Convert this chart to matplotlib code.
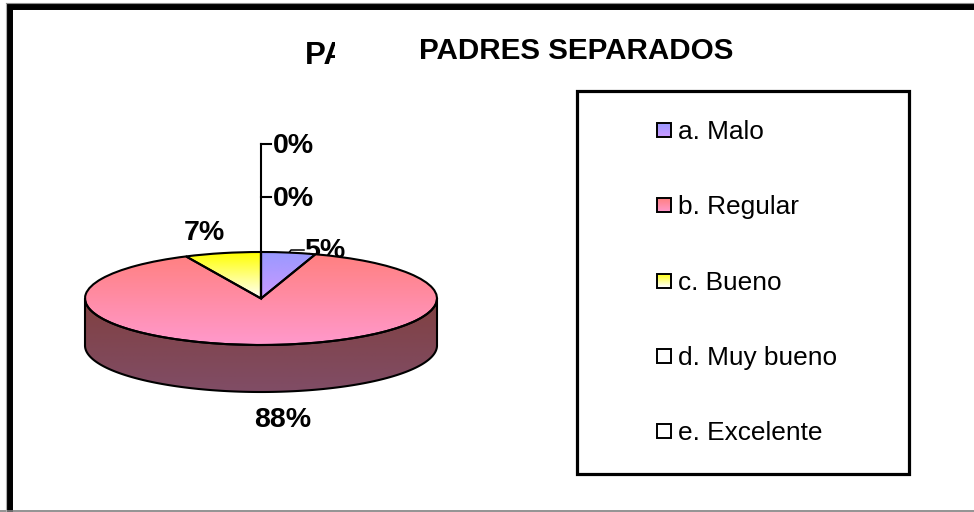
import numpy as np
import matplotlib
matplotlib.use('Agg')
import matplotlib.pyplot as plt
from matplotlib.patches import Rectangle, Polygon
from matplotlib.colors import LinearSegmentedColormap

plt.rcParams['font.family'] = ['Liberation Sans', 'DejaVu Sans']

title = 'PADRES SEPARADOS'
categories = ['a. Malo', 'b. Regular', 'c. Bueno', 'd. Muy bueno', 'e. Excelente']
values = [5, 88, 7, 0, 0]
pct_labels = ['5%', '88%', '7%', '0%', '0%']

# top / bottom colour of each gradient
grad_top = ['#9999ff', '#ff8080', '#ffff00', '#ffffff', '#ffffff']
grad_bot = ['#cc99ff', '#ff99cc', '#ffffff', '#ffffff', '#ffffff']
side_top = '#804040'
side_bot = '#804d66'

W, H = 974, 512
cx, cy, rx, ry, depth = 261, 298.5, 176, 46.5, 47


def gradient(ax, top, bot, extent, clip, zorder=1.5):
    cmap = LinearSegmentedColormap.from_list('g', [top, bot])
    im = ax.imshow(np.linspace(0, 1, 128).reshape(-1, 1), cmap=cmap, extent=extent,
                   aspect='auto', origin='upper', zorder=zorder)
    im.set_clip_path(clip)
    return im


fig = plt.figure(figsize=(W / 100, H / 100), dpi=100)

# overlay in image pixels for frame, title, legend; the pie goes above it so it can cover the 5% label
ov = fig.add_axes([0, 0, 1, 1], zorder=1)
ov.set_xlim(0, W)
ov.set_ylim(H, 0)
ov.axis('off')

# pie axes: one data unit is rx pixels across and ry pixels down, gives the tilted disc
ax = fig.add_axes([0, 0, 1, 1], zorder=2)
wedges, _ = ax.pie(values, startangle=90, counterclock=False, radius=1,
                   wedgeprops={'facecolor': 'none', 'edgecolor': 'black', 'linewidth': 1.5, 'zorder': 3})
xlim = (-cx / rx, (W - cx) / rx)
ylim = ((cy - H) / ry, cy / ry)
ax.set_aspect('auto')
d = depth / ry
t = np.linspace(np.pi, 2 * np.pi, 200)
side_xy = np.vstack([np.column_stack([np.cos(t), np.sin(t) - d]),
                     np.column_stack([np.cos(t[::-1]), np.sin(t[::-1])])])
side = Polygon(side_xy, closed=True, facecolor='none', edgecolor='black', linewidth=1.5, zorder=2)
ax.add_patch(side)
gradient(ax, side_top, side_bot, (-1, 1, -1 - d, 0), side)
for i, w in enumerate(wedges):
    if values[i] == 0:
        continue
    verts = w.get_path().transformed(w.get_patch_transform()).vertices
    gradient(ax, grad_top[i], grad_bot[i],
             (verts[:, 0].min(), verts[:, 0].max(), verts[:, 1].min(), verts[:, 1].max()), w)
ax.set_xlim(xlim)
ax.set_ylim(ylim)
ax.axis('off')
ax.patch.set_alpha(0)

# outer frame, runs off the right side of the image
ov.plot([10, 10], [H, 7], color='black', lw=4.3, solid_capstyle='butt')
ov.plot([7, W], [7, 7], color='black', lw=4.3, solid_capstyle='butt')
ov.plot([0, W], [511, 511], color='#808080', lw=1.2)
ov.plot([6.2, 6.2], [3, H], color='#b0b0b0', lw=0.8)
ov.plot([6, W], [3.2, 3.2], color='#909090', lw=0.8)

# title, the chart's own one is covered by the second title box
ov.text(305, 64, title, fontsize=22.5, fontweight='bold', va='baseline', ha='left')
ov.add_patch(Rectangle((335, 15), 580, 62, facecolor='white', edgecolor='none', zorder=3))
ov.text(419, 59, title, fontsize=21.3, fontweight='bold', va='baseline', ha='left', zorder=4)

# leader lines
ov.plot([261, 261], [298, 144], color='black', lw=1.5, zorder=4)
ov.plot([261, 271], [144, 144], color='black', lw=1.5, zorder=4)
ov.plot([261, 271], [197, 197], color='black', lw=1.5, zorder=4)
ov.plot([288, 291, 304], [254, 250, 250], color='black', lw=1.1, zorder=1)

lab_pos = [(304, 258), (254, 427), (184, 240), (273, 153), (273, 206)]
for lab, (x, y) in zip(pct_labels, lab_pos):
    ov.text(x, y, lab, fontsize=20.5, fontweight='bold', va='baseline', ha='left', zorder=2)

# legend box
ov.add_patch(Rectangle((576.5, 91), 332, 383, facecolor='white', edgecolor='black', linewidth=2.3, zorder=1))
rows = [130, 204.8, 280.5, 355.5, 430.5]
for i, (cat, y) in enumerate(zip(categories, rows)):
    sw = Rectangle((656.5, y - 7), 14, 14, facecolor='none', edgecolor='black', linewidth=1.4, zorder=3)
    ov.add_patch(sw)
    gradient(ov, grad_top[i], grad_bot[i], (656.5, 670.5, y + 7, y - 7), sw, zorder=2.5)
    ov.text(678, y + 9, cat, fontsize=18.9, va='baseline', ha='left', zorder=3)
ov.set_xlim(0, W)
ov.set_ylim(H, 0)

fig.savefig('out.png', dpi=100)
